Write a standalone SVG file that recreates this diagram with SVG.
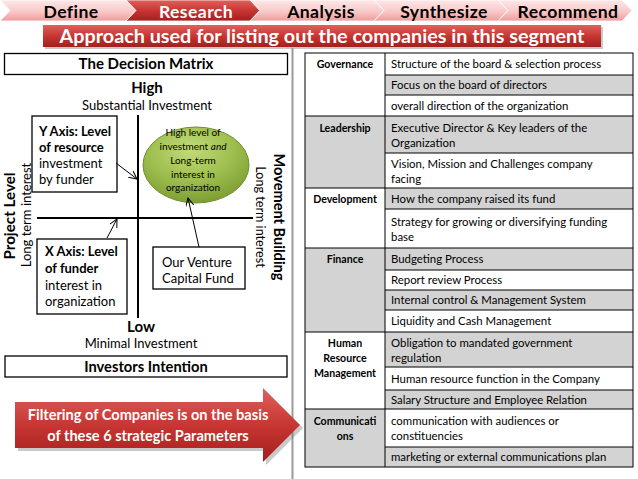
<svg xmlns="http://www.w3.org/2000/svg" width="638" height="479" viewBox="0 0 638 479">
<defs>
<linearGradient id="pink" x1="0" y1="0" x2="0" y2="1">
<stop offset="0" stop-color="#fde8e8"/><stop offset="0.55" stop-color="#f8c9c8"/><stop offset="1" stop-color="#ec9c9a"/>
</linearGradient>
<linearGradient id="red" x1="0" y1="0" x2="0" y2="1">
<stop offset="0" stop-color="#e0615c"/><stop offset="0.5" stop-color="#c73632"/><stop offset="1" stop-color="#a31f1c"/>
</linearGradient>
<radialGradient id="green" cx="0.45" cy="0.3" r="0.7">
<stop offset="0" stop-color="#c2db7b"/><stop offset="0.6" stop-color="#9cbd4c"/><stop offset="1" stop-color="#7e9e33"/>
</radialGradient>
<marker id="ah" markerUnits="userSpaceOnUse" markerWidth="9" markerHeight="9" refX="8" refY="4" orient="auto">
<path d="M0,0 L8,4 L0,8" fill="none" stroke="#000" stroke-width="1"/>
</marker>
</defs>
<style>
text{font-family:Lato,'Liberation Sans',sans-serif;fill:#000}
.b{font-weight:bold}
.w{fill:#fff}
.m{text-anchor:middle}
.box{fill:#fff;stroke:#000;stroke-width:1.3}
.chev{stroke:#fff;stroke-width:0.8}
.ct{font-size:17.6px;font-weight:bold;text-anchor:middle;letter-spacing:0.4px}
.mt{font-size:13px}
.cell{font-size:11.4px}
.lbl{font-size:10.6px;font-weight:bold;text-anchor:middle}
.gr{fill:#d3d3d3}
.grid{stroke:#000;stroke-width:1;fill:none}
.con{stroke:#000;stroke-width:1;fill:none;marker-end:url(#ah)}
.axis{stroke:#000;stroke-width:2}
</style>
<rect width="638" height="479" fill="#fff"/>

<g id="process-bar">
<g id="step-define"><polygon class="chev" points="0,0 126,0 136,10.5 126,21 0,21 10,10.5" fill="url(#pink)"/><text class="ct" x="71" y="18">Define</text></g>
<g id="step-research"><polygon class="chev" points="126,0 250,0 260,10.5 250,21 126,21 136,10.5" fill="url(#red)"/><text class="ct w" x="196" y="18">Research</text></g>
<g id="step-analysis"><polygon class="chev" points="250,0 374,0 384,10.5 374,21 250,21 260,10.5" fill="url(#pink)"/><text class="ct" x="321" y="18">Analysis</text></g>
<g id="step-synthesize"><polygon class="chev" points="374,0 498,0 508,10.5 498,21 374,21 384,10.5" fill="url(#pink)"/><text class="ct" x="444" y="18">Synthesize</text></g>
<g id="step-recommend"><polygon class="chev" points="498,0 622,0 632,10.5 622,21 498,21 508,10.5" fill="url(#pink)"/><text class="ct" x="568" y="18">Recommend</text></g>
</g>

<g id="banner">
<rect x="45" y="27" width="558" height="22" fill="#888" opacity="0.45"/>
<rect x="43" y="25" width="558" height="22" fill="url(#red)"/>
<text class="b w m" x="322" y="42.5" font-size="19.8">Approach used for listing out the companies in this segment</text>
</g>

<line id="divider" x1="292.5" y1="48" x2="292.5" y2="479" stroke="#9a9a9a" stroke-width="2"/>

<g id="decision-matrix-title"><rect class="box" x="4.5" y="53.5" width="283" height="21"/><text class="b m" x="146" y="69" font-size="15">The Decision Matrix</text></g>

<g id="high-label"><text class="b m" x="147" y="93" font-size="15">High</text><text class="m mt" x="147" y="110">Substantial Investment</text></g>
<g id="low-label"><text class="b m" x="141" y="332" font-size="15">Low</text><text class="m mt" x="141" y="348">Minimal Investment</text></g>

<g id="axes">
<line class="axis" x1="138" y1="115" x2="138" y2="318"/>
<line class="axis" x1="37" y1="218" x2="253" y2="218"/>
</g>

<g id="left-label">
<text class="b m" transform="translate(15,216) rotate(-90)" font-size="15.2">Project Level</text>
<text class="m" transform="translate(31,215) rotate(-90)" font-size="13">Long term interest</text>
</g>
<g id="right-label">
<text class="b m" transform="translate(274,217) rotate(90)" font-size="14.6">Movement Building</text>
<text class="m" transform="translate(256,217) rotate(90)" font-size="12.6">Long term interest</text>
</g>

<g id="y-axis-box">
<rect class="box" x="32" y="116" width="85" height="76"/>
<text class="mt b" x="39" y="136">Y Axis: Level</text>
<text class="mt b" x="39" y="152">of resource</text>
<text class="mt" x="39" y="168">investment</text>
<text class="mt" x="39" y="184">by funder</text>
</g>

<g id="high-ellipse">
<ellipse cx="196" cy="165" rx="53" ry="38" fill="url(#green)" stroke="#6f8f2a" stroke-width="1"/>
<text class="m" x="193" y="136" font-size="10">High level of</text>
<text class="m" x="193" y="150" font-size="10">investment <tspan font-style="italic">and</tspan></text>
<text class="m" x="193" y="163.5" font-size="10">Long-term</text>
<text class="m" x="193" y="177.5" font-size="10">interest in</text>
<text class="m" x="193" y="191" font-size="10">organization</text>
</g>

<g id="x-axis-box">
<rect class="box" x="37" y="239" width="90" height="75"/>
<text class="mt b" x="45" y="256">X Axis: Level</text>
<text class="mt b" x="45" y="273">of funder</text>
<text class="mt" x="45" y="290">interest in</text>
<text class="mt" x="45" y="306">organization</text>
</g>

<g id="venture-box">
<rect class="box" x="153" y="247" width="92" height="42"/>
<text class="mt" x="162" y="267">Our Venture</text>
<text class="mt" x="162" y="283">Capital Fund</text>
</g>

<g id="connectors">
<line class="con" x1="116" y1="163" x2="137" y2="179"/>
<line class="con" x1="107" y1="238" x2="117" y2="219"/>
<line class="con" x1="199" y1="247" x2="188" y2="198"/>
</g>

<g id="investors-intention"><rect class="box" x="5" y="356" width="282" height="21"/><text class="b m" x="146" y="372" font-size="14.7">Investors Intention</text></g>

<g id="filter-arrow">
<polygon points="18,405 266,405 266,391 303,428 266,465 266,451 18,451" fill="#777" opacity="0.4"/>
<polygon points="15,402 263,402 263,388 300,425 263,462 263,448 15,448" fill="url(#red)"/>
<text class="b w m" x="148" y="420" font-size="14.6">Filtering of Companies is on the basis</text>
<text class="b w m" x="148" y="441" font-size="14.6">of these 6 strategic Parameters</text>
</g>

<g id="parameter-table">
<g id="shading">
<rect class="gr" x="385" y="75" width="248" height="20"/>
<rect class="gr" x="305" y="116" width="328" height="37"/>
<rect class="gr" x="305" y="153" width="80" height="35"/>
<rect class="gr" x="385" y="188" width="248" height="21"/>
<rect class="gr" x="305" y="248" width="328" height="22"/>
<rect class="gr" x="305" y="270" width="80" height="62"/>
<rect class="gr" x="385" y="290" width="248" height="20"/>
<rect class="gr" x="385" y="332" width="248" height="35"/>
<rect class="gr" x="385" y="390" width="248" height="19"/>
<rect class="gr" x="305" y="409" width="80" height="58"/>
<rect class="gr" x="385" y="447" width="248" height="20"/>
</g>
<g id="grid" class="grid">
<rect x="305" y="53" width="328" height="414"/>
<path d="M385,53V467 M305,116H633 M305,188H633 M305,248H633 M305,332H633 M305,409H633 M385,75H633 M385,95H633 M385,153H633 M385,209H633 M385,270H633 M385,290H633 M385,310H633 M385,367H633 M385,390H633 M385,447H633"/>
</g>
<g id="row-governance">
<text class="lbl" x="345" y="68">Governance</text>
<text class="cell" x="391" y="68">Structure of the board &amp; selection process</text>
<text class="cell" x="391" y="89">Focus on the board of directors</text>
<text class="cell" x="391" y="109.5">overall direction of the organization</text>
</g>
<g id="row-leadership">
<text class="lbl" x="345" y="131.5">Leadership</text>
<text class="cell" x="391" y="131.5">Executive Director &amp; Key leaders of the</text>
<text class="cell" x="391" y="146.5">Organization</text>
<text class="cell" x="391" y="167.5">Vision, Mission and Challenges  company</text>
<text class="cell" x="391" y="182.5">facing</text>
</g>
<g id="row-development">
<text class="lbl" x="345" y="202.5">Development</text>
<text class="cell" x="391" y="202.5">How the company raised its fund</text>
<text class="cell" x="391" y="225.5">Strategy for growing or diversifying  funding</text>
<text class="cell" x="391" y="240.5">base</text>
</g>
<g id="row-finance">
<text class="lbl" x="345" y="263">Finance</text>
<text class="cell" x="391" y="263">Budgeting Process</text>
<text class="cell" x="391" y="284">Report review Process</text>
<text class="cell" x="391" y="304">Internal control &amp; Management System</text>
<text class="cell" x="391" y="325">Liquidity and Cash Management</text>
</g>
<g id="row-hrm">
<text class="lbl" x="345" y="346.5">Human</text>
<text class="lbl" x="345" y="361.5">Resource</text>
<text class="lbl" x="345" y="376.5">Management</text>
<text class="cell" x="391" y="346.5">Obligation to mandated government</text>
<text class="cell" x="391" y="361.5">regulation</text>
<text class="cell" x="391" y="382.5">Human resource function in the Company</text>
<text class="cell" x="391" y="403.5">Salary Structure and Employee Relation</text>
</g>
<g id="row-communications">
<text class="lbl" x="345" y="425">Communicati</text>
<text class="lbl" x="345" y="440">ons</text>
<text class="cell" x="391" y="425">communication with audiences or</text>
<text class="cell" x="391" y="440">constituencies</text>
<text class="cell" x="391" y="461">marketing or external communications plan</text>
</g>
</g>
</svg>
